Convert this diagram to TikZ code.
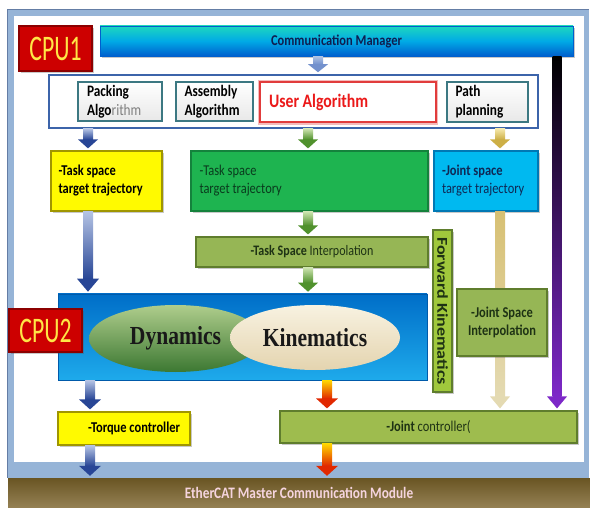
\documentclass[tikz,border=0pt]{standalone}
\usepackage{fontspec}
\setmainfont{Carlito}[FakeStretch=0.83]
\newfontfamily\cpufont{Carlito}[FakeStretch=0.66]
\newfontfamily\fkfont{Carlito}[FakeStretch=1.2]
\newfontfamily\tnr{Liberation Serif}[FakeStretch=0.83]
\usetikzlibrary{calc,shadows,shapes.geometric}

\definecolor{framebl}{RGB}{150,180,215}
\definecolor{framedk}{RGB}{100,125,165}
\definecolor{cpured}{RGB}{205,0,0}
\definecolor{cpudark}{RGB}{140,0,0}
\definecolor{cpuyel}{RGB}{255,230,70}
\definecolor{commtop}{RGB}{30,215,190}
\definecolor{commmid}{RGB}{0,170,230}
\definecolor{commbot}{RGB}{0,95,205}
\definecolor{commtxt}{RGB}{15,30,80}
\definecolor{algb}{RGB}{60,100,170}
\definecolor{tealb}{RGB}{60,120,130}
\definecolor{ured}{RGB}{225,60,60}
\definecolor{utext}{RGB}{235,25,25}
\definecolor{yelf}{RGB}{255,250,0}
\definecolor{yelb}{RGB}{160,150,0}
\definecolor{grnf}{RGB}{30,180,80}
\definecolor{grnb}{RGB}{20,130,60}
\definecolor{grntxt}{RGB}{10,60,30}
\definecolor{cyanf}{RGB}{0,185,240}
\definecolor{cyanb}{RGB}{0,120,180}
\definecolor{cyantxt}{RGB}{15,40,85}
\definecolor{olivef}{RGB}{150,182,85}
\definecolor{oliveb}{RGB}{95,125,45}
\definecolor{olivetxt}{RGB}{30,50,20}
\definecolor{fkf}{RGB}{160,200,60}
\definecolor{c2top}{RGB}{0,110,200}
\definecolor{c2bot}{RGB}{30,170,235}
\definecolor{c2b}{RGB}{0,90,170}
\definecolor{dyntop}{RGB}{175,205,140}
\definecolor{dynbot}{RGB}{60,120,50}
\definecolor{kintop}{RGB}{248,242,225}
\definecolor{kinbot}{RGB}{228,212,175}
\definecolor{ecattop}{RGB}{105,85,35}
\definecolor{ecatbot}{RGB}{150,130,85}
\definecolor{ecattxt}{RGB}{245,212,222}
\definecolor{cmtop}{RGB}{175,195,228}
\definecolor{cmbot}{RGB}{115,145,205}
\definecolor{bltop}{RGB}{180,195,228}
\definecolor{blbot}{RGB}{40,70,150}
\definecolor{grtop}{RGB}{205,228,175}
\definecolor{grbot}{RGB}{80,145,45}
\definecolor{gdtop}{RGB}{245,232,170}
\definecolor{gdbot}{RGB}{205,175,70}
\definecolor{tantop}{RGB}{215,192,115}
\definecolor{tanbot}{RGB}{228,218,178}
\definecolor{rdtop}{RGB}{255,215,0}
\definecolor{rdbot}{RGB}{225,40,0}
\definecolor{navy2}{RGB}{20,20,150}
\definecolor{purp}{RGB}{125,40,200}

\newcommand\fsz[2]{\fontsize{#1}{#2}\selectfont}
% block arrow: #1 x coord name, #2 from, #3 to, #4 shaft half width, #5 head half width, #6 head length, #7 top colour, #8 bottom colour
\newcommand\blk[8]{%
  \shade[top color=#7, bottom color=#8] ($(#1 |- #2)+(-#4,0)$) rectangle ($(#1 |- #3)+(#4,-#6-2)$);
  \fill[#8] ($(#1 |- #3)+(-#5,-#6-2)$) -- ($(#1 |- #3)+(#5,-#6-2)$) -- ($(#1 |- #3)+(0,-2)$) -- cycle;
}

\tikzset{
  every node/.style={inner sep=3pt},
  box/.style={draw, rectangle, line width=1.2pt},
  shad/.style={drop shadow={shadow xshift=2pt,shadow yshift=-2pt,opacity=0.3,fill=black!70}},
  cpubox/.style={box, draw=cpudark, fill=cpured, text=cpuyel, font=\cpufont\fsz{36}{36}, shad},
  algo/.style={box, draw=tealb, line width=1.6pt, top color=white, bottom color=black!9, align=flush left, font=\bfseries\fsz{16}{19}},
  yelbox/.style={box, draw=yelb, fill=yelf, shad},
  olivebox/.style={box, draw=oliveb, fill=olivef, text=olivetxt, shad},
}

\begin{document}
\begin{tikzpicture}[x=1pt,y=-1pt]
\useasboundingbox (0,0) rectangle (590,508);
% frame
\fill[framebl] (7,9) rectangle (589,478);
\draw[framedk, line width=0.8pt] (7.5,9.5) -- (588.5,9.5) (7.5,9.5) -- (7.5,478);
\fill[white] (14,16) rectangle (584,462);

% CPU1 level
\node[cpubox, minimum width=73pt, minimum height=45pt] (cpu1) at (55.5,48.5) {CPU1};
\node[box, draw=commbot, line width=0.6pt, top color=commtop, bottom color=commbot, middle color=commmid,
      minimum width=473pt, minimum height=30pt, font=\bfseries\fsz{15}{18}, text=commtxt, shad] (comm) at (336.5,41) {Communication Manager};

\node[draw=algb, line width=1.5pt, fill=white, minimum width=489pt, minimum height=53pt] (alg) at (293.5,101.5) {};
\node[algo, minimum width=84pt, minimum height=39pt, text width=66pt] (pack) at (120,101.5) {Packing\\Algo{\mdseries\color{gray}rithm}};
\node[algo, minimum width=77pt, minimum height=39pt, text width=60pt] (assem) at (214.5,101.5) {Assembly\\Algorithm};
\node[box, draw=ured, line width=2pt, fill=white, preaction={draw=ured!35, line width=4.5pt},
      minimum width=176pt, minimum height=40pt, text width=158pt, align=flush left,
      font=\bfseries\fsz{19}{22}, text=utext] (user) at (348,102.5) {User Algorithm};
\node[algo, minimum width=81pt, minimum height=40pt, text width=64pt] (path) at (487.5,102) {Path\\planning};

% target trajectories
\node[yelbox, minimum width=111pt, minimum height=60pt, text width=96pt, align=flush left, font=\bfseries\fsz{15}{18}] (yel1) at (106.5,181) {-Task space\\target trajectory};
\node[box, draw=grnb, fill=grnf, shad, minimum width=237pt, minimum height=60pt, text width=220pt, align=flush left, font=\fsz{15}{18}, text=grntxt] (green1) at (309.5,181) {-Task space\\target trajectory};
\node[box, draw=cyanb, fill=cyanf, shad, minimum width=104pt, minimum height=60pt, text width=88pt, align=flush left, font=\fsz{15}{18}, text=cyantxt] (cyan1) at (486,181) {\textbf{-Joint space}\\target trajectory};

\node[olivebox, minimum width=232pt, minimum height=30pt, font=\fsz{14.5}{17}] (tsi) at (312,252) {\textbf{-Task Space} Interpolation};
\node[box, draw=oliveb, fill=fkf, shad, rotate=-90, minimum width=162pt, minimum height=19pt, inner sep=1pt, font=\fkfont\bfseries\fsz{15}{15}, text=olivetxt] (fk) at (442.5,311) {Forward Kinematics};

% CPU2 level
\node[draw=c2b, line width=0.6pt, top color=c2top, bottom color=c2bot, minimum width=369pt, minimum height=86pt] (area) at (242.5,337) {};
\node[ellipse, top color=dyntop, bottom color=dynbot, minimum width=173pt, minimum height=67pt, inner sep=0pt, font=\tnr\bfseries\fsz{26}{26}, text=black!90] (dyn) at (175.5,338.5) {Dynamics};
\node[ellipse, top color=kintop, bottom color=kinbot, minimum width=170pt, minimum height=65pt, inner sep=0pt, font=\tnr\bfseries\fsz{26}{26}, text=black!90] (kin) at (315,337.5) {Kinematics};
\node[cpubox, minimum width=73pt, minimum height=43pt] (cpu2) at (45.5,330.5) {CPU2};

% controllers
\node[yelbox, minimum width=132pt, minimum height=33pt, text width=112pt, align=flush right, font=\bfseries\fsz{15}{18}] (torque) at (124,428.5) {-Torque controller};
\node[box, draw=oliveb, fill=olivef!92!yellow, shad, minimum width=297pt, minimum height=32pt, font=\fsz{15}{18}, text=olivetxt] (jc) at (428.5,427) {\textbf{-Joint} controller(};

% EtherCAT band
\node[top color=ecattop, bottom color=ecatbot, minimum width=582pt, minimum height=30pt, inner sep=0pt, font=\bfseries\fsz{16}{18}, text=ecattxt] (ecat) at (299,493) {EtherCAT Master Communication Module};

% connectors
\coordinate (x88) at (88,0);
\coordinate (x90) at (90,0);
\coordinate (x308) at (308,0);
\coordinate (x318) at (318,0);
\coordinate (x327) at (327,0);
\coordinate (x500) at (500,0);
\coordinate (x557) at (557,0);

\blk{x318}{comm.south}{alg.north}{5}{10}{8}{cmtop}{cmbot}
\blk{x88}{alg.south}{yel1.north}{5}{10}{9}{bltop}{blbot}
\blk{x308}{alg.south}{green1.north}{5}{10}{9}{grtop}{grbot}
\blk{x500}{alg.south}{cyan1.north}{5}{10}{9}{gdtop}{gdbot}
\blk{x88}{yel1.south}{area.north}{5}{11}{13}{bltop}{blbot}
\blk{x308}{green1.south}{tsi.north}{5}{10}{9}{grtop}{grbot}
\blk{x308}{tsi.south}{area.north}{5}{10}{9}{grtop}{grbot}
\blk{x500}{cyan1.south}{jc.north}{5}{10}{12}{tantop}{tanbot}
\shade[top color=black, middle color=navy2, bottom color=purp] ($(x557 |- comm.south)+(-4.5,0)$) rectangle ($(x557 |- jc.north)+(4.5,-14)$);
\fill[purp] ($(x557 |- jc.north)+(-10,-14)$) -- ($(x557 |- jc.north)+(10,-14)$) -- ($(x557 |- jc.north)+(0,-2)$) -- cycle;
\blk{x90}{area.south}{torque.north}{5}{11}{10}{bltop}{blbot}
\blk{x327}{area.south}{jc.north}{5}{11}{10}{rdtop}{rdbot}
\blk{x90}{torque.south}{ecat.north}{5}{11}{10}{bltop}{blbot}
\blk{x327}{jc.south}{ecat.north}{5}{11}{10}{rdtop}{rdbot}

% joint space interpolation (over the gold line)
\node[olivebox, minimum width=90pt, minimum height=67pt, align=flush center, font=\bfseries\fsz{15}{18}] (jsi) at (502,322.5) {-Joint Space\\Interpolation};
\end{tikzpicture}
\end{document}
